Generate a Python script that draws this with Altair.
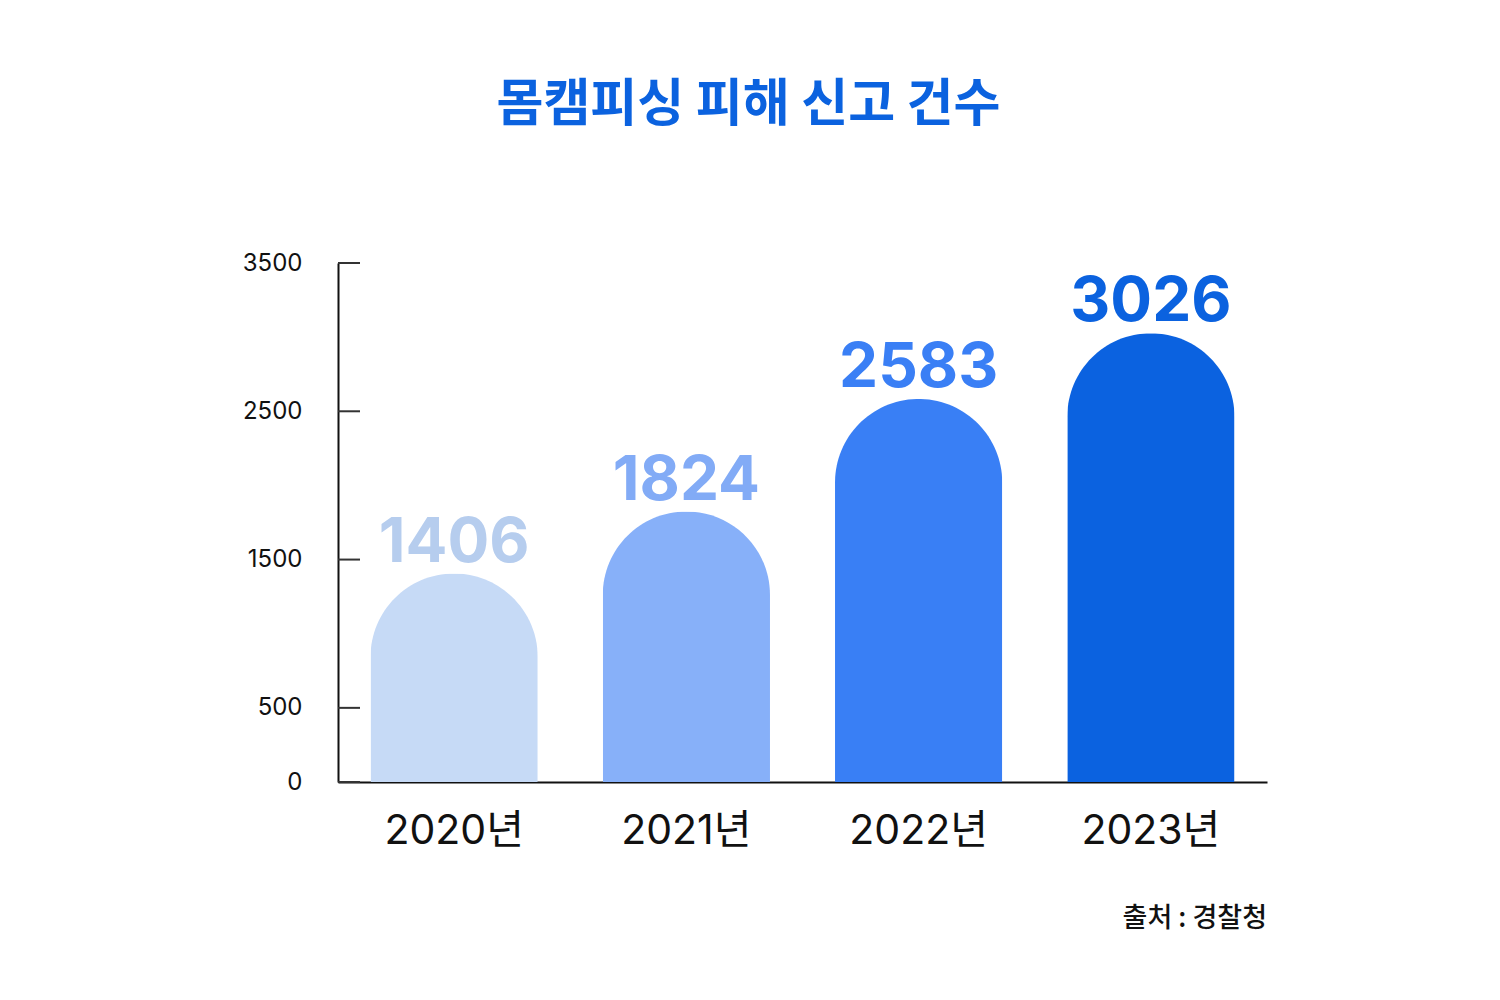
import pandas as pd
import altair as alt

# data
years = ["2020년", "2021년", "2022년", "2023년"]
reports = [1406, 1824, 2583, 3026]
bar_colors = ["#c6daf6", "#87b0f9", "#397ff5", "#0b62e0"]
label_colors = ["#b6cdee", "#82abf6", "#3a7ff5", "#0b62df"]
tick_values = [0, 500, 1500, 2500, 3500]
source_note = ["출처 : 경찰청"]

NUM_FONT = "Inter, Noto Sans CJK KR"
KR_FONT = "Noto Sans CJK KR"
W, H = 929, 519

df = pd.DataFrame({"year": years, "reports": reports, "label_color": label_colors})
ticks = pd.DataFrame({"value": tick_values})
note = pd.DataFrame({"text": source_note})

x_enc = alt.X(
    "year:N",
    sort=years,
    title=None,
    scale=alt.Scale(paddingInner=0.28, paddingOuter=0.14),
    axis=alt.Axis(
        labelAngle=0,
        labelFont=NUM_FONT,
        labelFontSize=41,
        labelColor="#111111",
        labelPadding=29,
        ticks=False,
        domainColor="#111111",
        domainWidth=2,
    ),
)
y_scale = alt.Scale(domain=[0, 3500], nice=False)

base = alt.Chart(df)

bars = base.mark_bar(cornerRadiusTopLeft=83.5, cornerRadiusTopRight=83.5).encode(
    x=x_enc,
    y=alt.Y(
        "reports:Q",
        scale=y_scale,
        title=None,
        axis=alt.Axis(
            values=tick_values,
            format="d",
            labelFont=NUM_FONT,
            labelFontSize=24,
            labelColor="#111111",
            labelPadding=36,
            ticks=False,
            grid=False,
            domainColor="#111111",
            domainWidth=2,
        ),
    ),
    color=alt.Color("year:N", scale=alt.Scale(domain=years, range=bar_colors), legend=None),
)

labels = base.mark_text(
    font=NUM_FONT, fontSize=62, fontWeight="bold", baseline="alphabetic", dy=-12
).encode(
    x=alt.X("year:N", sort=years),
    y=alt.Y("reports:Q", scale=y_scale),
    text=alt.Text("reports:Q", format="d"),
    color=alt.Color("label_color:N", scale=None),
)

tick_marks = alt.Chart(ticks).mark_rule(color="#333333", strokeWidth=2).encode(
    y=alt.Y("value:Q", scale=y_scale),
    x=alt.value(0),
    x2=alt.value(22),
)

source = alt.Chart(note).mark_text(
    font=KR_FONT, fontSize=27, fontWeight=500, align="right", baseline="middle", color="#111111"
).encode(
    text="text:N",
    x=alt.value(W),
    y=alt.value(656),
)

chart = (
    alt.layer(bars, labels, tick_marks, source)
    .properties(
        width=W,
        height=H,
        autosize=alt.AutoSizeParams(type="none"),
        padding={"left": 330, "top": 255, "right": 200, "bottom": 210},
        title=alt.Title(
            "몸캠피싱 피해 신고 건수",
            font=KR_FONT,
            fontSize=51,
            fontWeight="bold",
            color="#0b62df",
            anchor="middle",
            dx=-54,
            offset=119,
        ),
    )
    .configure_view(stroke=None)
)

chart.save("out.html", embed_options={"renderer": "svg", "actions": False})
